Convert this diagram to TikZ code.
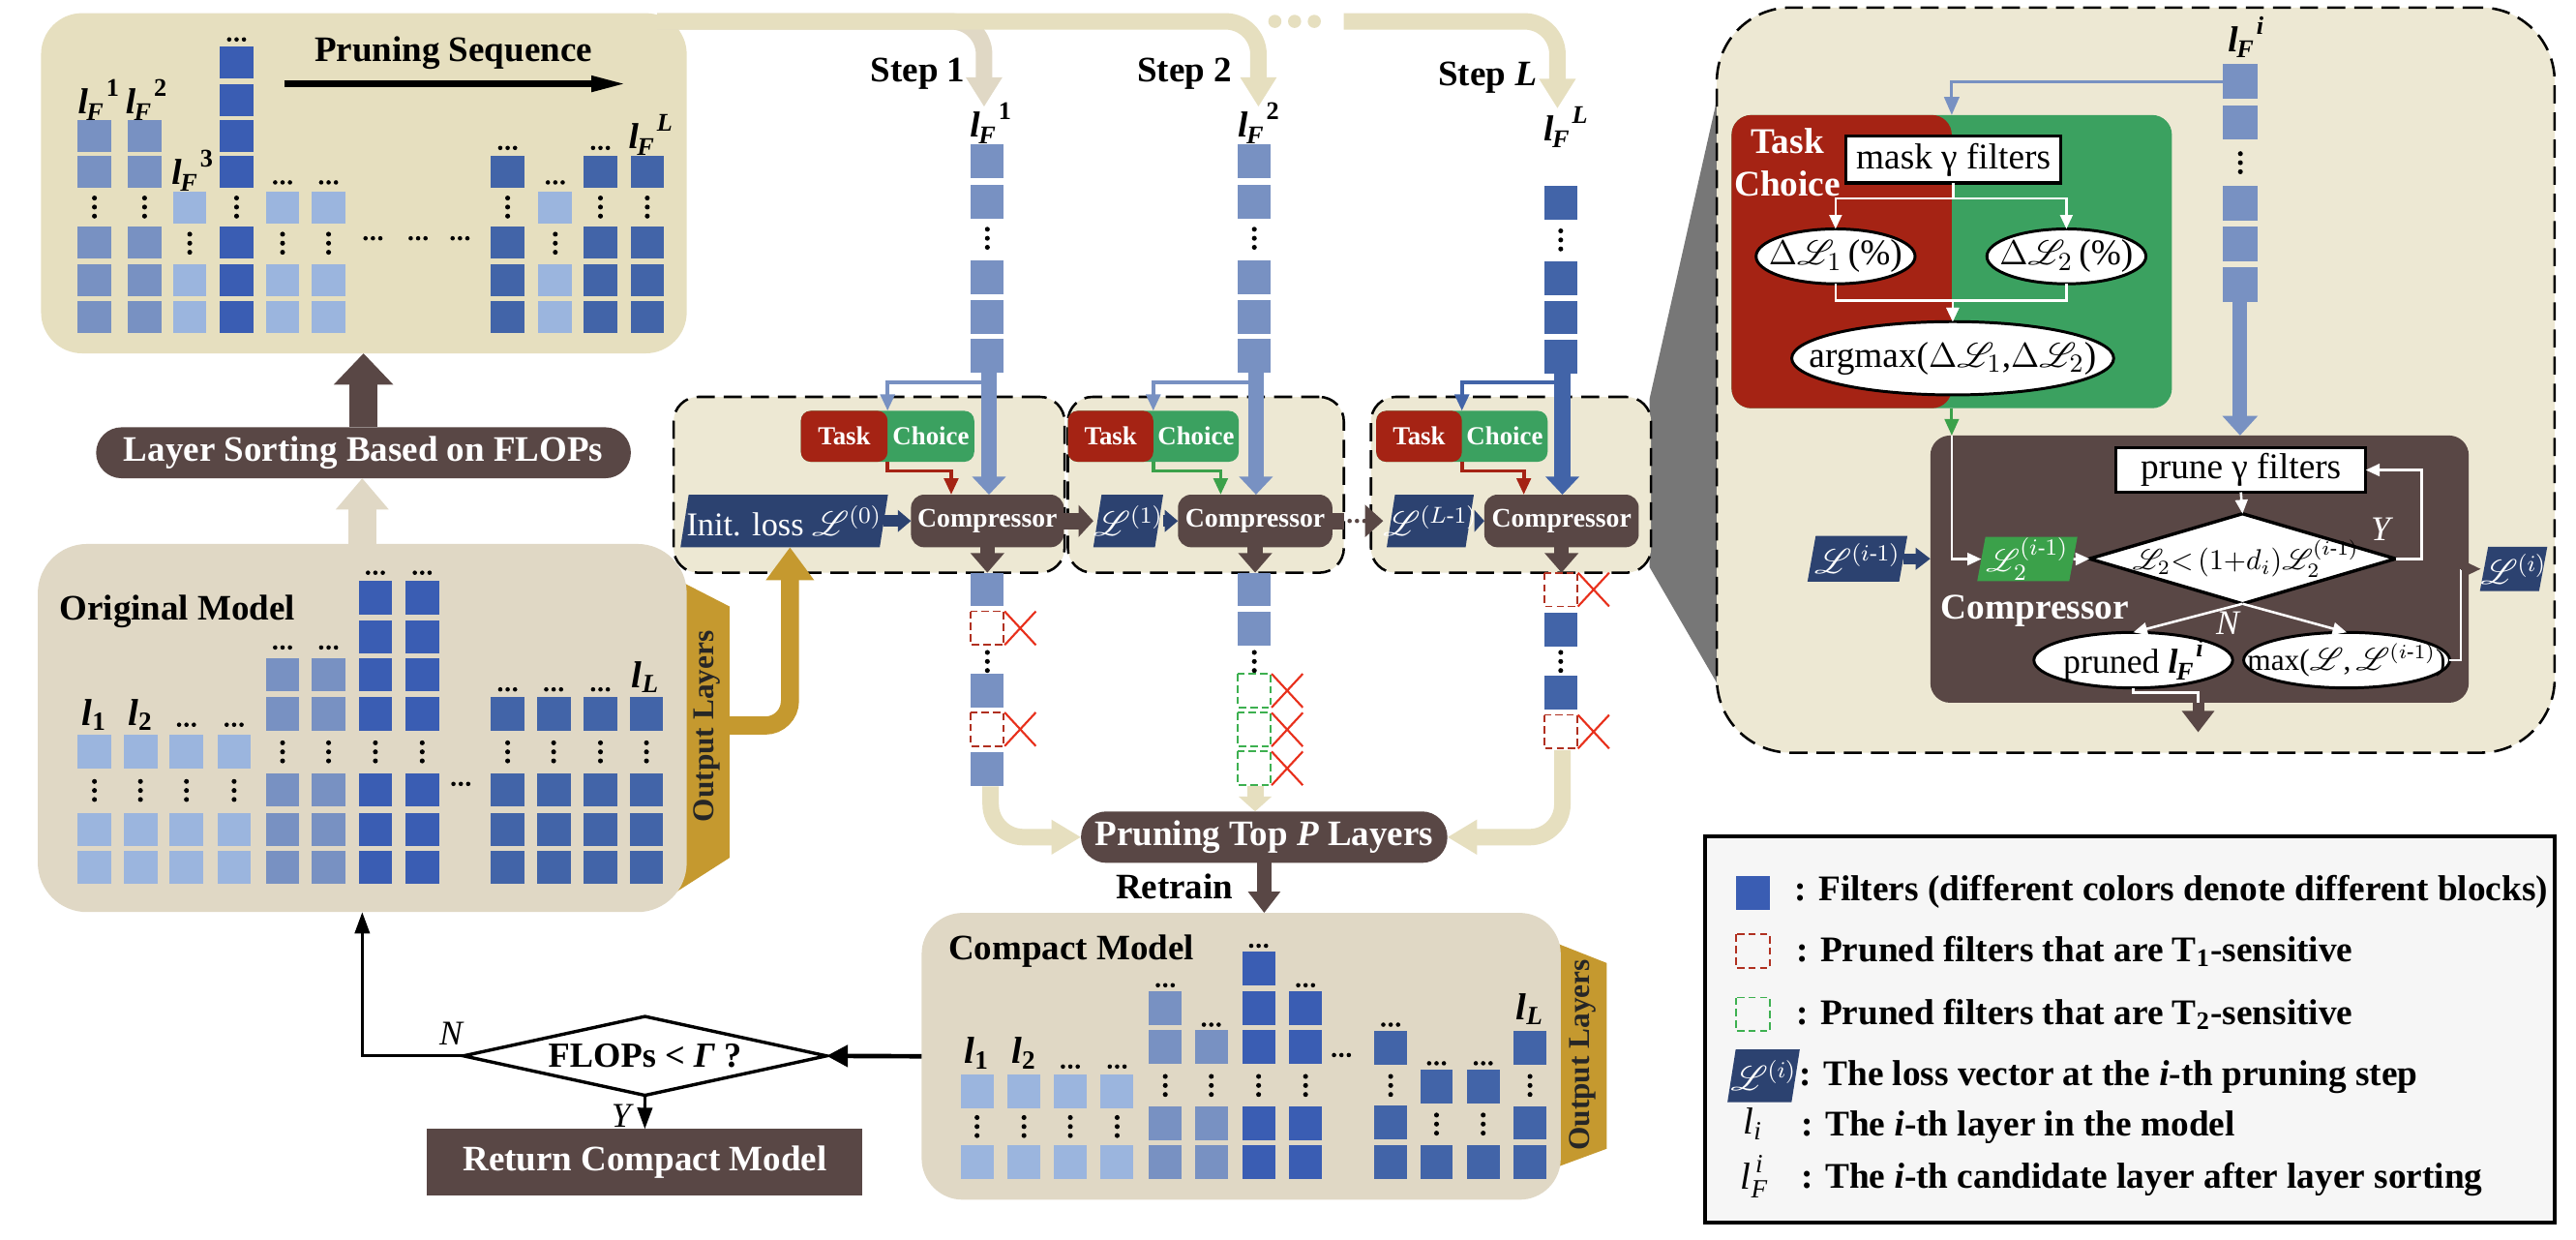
\documentclass[tikz,border=0pt]{standalone}
\usepackage{amsmath}
\usepackage{mathrsfs}
\usepackage{fontspec}
\setmainfont{Liberation Serif}
\usetikzlibrary{arrows.meta,shapes.geometric,calc}
\definecolor{bgA}{HTML}{E6DFBF}
\definecolor{bgB}{HTML}{E0D8C5}
\definecolor{bgC}{HTML}{EDE8D3}
\definecolor{brn}{HTML}{594745}
\definecolor{navy}{HTML}{2C4270}
\definecolor{tred}{HTML}{A52314}
\definecolor{tgrn}{HTML}{3BA160}
\definecolor{lgrn}{HTML}{3BA14A}
\definecolor{fL}{HTML}{9BB5DE}
\definecolor{fM}{HTML}{7891C2}
\definecolor{fD}{HTML}{3A5DB3}
\definecolor{fE}{HTML}{4264A8}
\definecolor{gold}{HTML}{C5992F}
\definecolor{xred}{HTML}{E8301C}
\definecolor{dred}{HTML}{B03020}
\definecolor{dgrn}{HTML}{3DB050}
\definecolor{lgdc}{HTML}{F6F6F6}
\definecolor{gry}{HTML}{777777}

\newcommand\sqw{20}
\newcommand\sqh{20.5}
\newcommand\fsq[3]{\fill[#3] ({#1-\sqw/2},{#2}) rectangle ++(\sqw,\sqh);}
\newcommand\fdsq[3]{\draw[#3,line width=0.22mm,dash pattern=on 0.9mm off 0.5mm] ({#1-\sqw/2},{#2}) rectangle ++(\sqw,\sqh);}
\newcommand\fxm[2]{\draw[xred,line width=0.25mm] ({#1},{#2}) -- ++(19,\sqh) ({#1+19},{#2}) -- ++(-19,\sqh);}
\newcommand\fvd[2]{\foreach \k in {-5.5,0,5.5}{\fill ({#1},{#2+\k}) circle (0.3mm);}}
\newcommand\fhd[2]{\foreach \k in {-4.5,0,4.5}{\fill ({#1+\k},{#2}) circle (0.27mm);}}
\newcommand\pgram[7]{%
  \fill[#6] ({#2-#4/2+2.5},{#3-#5/2}) -- ({#2+#4/2+2.5},{#3-#5/2}) -- ({#2+#4/2-2.5},{#3+#5/2}) -- ({#2-#4/2-2.5},{#3+#5/2}) -- cycle;
  \node[sz={#4}{#5},text=white] (#1) at (#2,#3) {#7};}
\newcommand\lfl[1]{\textbf{\textit{l}}\kern-0.04em\raisebox{-0.4ex}{\fontsize{8.8}{9}\selectfont\textbf{\textit{F}}}\kern0.08em\raisebox{1.05ex}{\fontsize{8.8}{9}\selectfont\textbf{#1}}}
\newcommand\lsub[1]{\ensuremath{\textbf{\textit{l}}_{\textbf{#1}}}}
\newcommand\sL{\mathscr{L}}

\begin{document}
\begin{tikzpicture}[x=0.2mm,y=-0.2mm,
  sz/.style 2 args={minimum width=#1*0.2mm,minimum height=#2*0.2mm,inner sep=0pt,outer sep=0pt},
  bigt/.style={font=\fontsize{12.4}{14}\selectfont\bfseries},
  lgt/.style={font=\fontsize{12.5}{15}\selectfont\bfseries,anchor=west,inner sep=0pt},
  pillb/.style={fill=brn,text=white,bigt},
  cmpr/.style={fill=brn,text=white,rounded corners=1.6mm,font=\fontsize{9.3}{11}\selectfont\bfseries},
  tcs/.style={fill=tgrn,rounded corners=1.2mm,path picture={\fill[tred] (path picture bounding box.south west) rectangle (path picture bounding box.north);}},
  tct/.style={text=white,font=\fontsize{9}{11}\selectfont\bfseries,inner sep=0pt},
  stepbox/.style={fill=bgC,draw=black,line width=0.3mm,dash pattern=on 2.2mm off 1.1mm,rounded corners=3mm},
  band/.style={line width=2mm,draw=bgA,rounded corners=4mm,-{Triangle[width=4.2mm,length=3.6mm]}},
  lab/.style={font=\fontsize{12.5}{14}\selectfont,inner sep=0pt},
  labo/.style={font=\fontsize{13}{15}\selectfont,inner sep=0pt},
  wl/.style={draw=white,line width=0.3mm},
  wtip/.style={-{Triangle[width=1.5mm,length=1.7mm]}},
  ell/.style={ellipse,draw=black,fill=white,line width=0.35mm},
  rt/.style={font=\fontsize{12.5}{14}\selectfont,inner sep=0pt},
  otab/.style={rotate=90,font=\fontsize{10.5}{12}\selectfont\bfseries,text=black!85,inner sep=0pt},
]
\useasboundingbox (0,0) rectangle (1568,754);
\fill[white] (0,0) rectangle (1568,754);

% grey zoom connector
\fill[gry] (1004,243) -- (1047,52) -- (1047,419) -- (1004,345) -- cycle;

% ===== pruning sequence box =====
\node[sz={393}{207},fill=bgA,rounded corners=5mm] (seqbox) at (221.5,111.5) {};
\coordinate (bandS) at (400,13);
\coordinate (s1tip) at (599,65);
\coordinate (s2tip) at (766,65);
\coordinate (bandL) at (818,13);
\coordinate (sLtip) at (948,66);
\draw[band,draw=bgB] (bandS) -| (s1tip);
\draw[band] (bandS) -| (s2tip);
\foreach \x in {776,788,800}{\fill[bgA] (\x,13) circle (0.8mm);}
\draw[band] (bandL) -| (sLtip);

\node[bigt] (seqt) at (276,32) {Pruning Sequence};
\coordinate (seqa1) at (173,51);
\coordinate (seqa2) at (381,51);
\draw[line width=0.75mm,-{Triangle[width=1.8mm,length=4.2mm]}] (seqa1) -- (seqa2);

\renewcommand\sqw{20.5}\renewcommand\sqh{19.5}
\foreach \x in {57.5,88}{\fsq{\x}{73}{fM}\fsq{\x}{95}{fM}\fvd{\x}{126}\fsq{\x}{138}{fM}\fsq{\x}{161}{fM}\fsq{\x}{183}{fM}}
\foreach \x in {115.5,172,200,338}{\fsq{\x}{116.5}{fL}\fvd{\x}{148}\fsq{\x}{161}{fL}\fsq{\x}{183}{fL}}
\foreach \x in {172,200,338}{\fhd{\x}{111}}
\fhd{144}{24}
\foreach \y in {28.5,51,73,95,138,161,183}{\fsq{144}{\y}{fD}}
\fvd{144}{126}
\fhd{227}{145}\fhd{254.5}{145}\fhd{280}{145}
\foreach \x in {309,365.5,394}{\fsq{\x}{95}{fE}\fvd{\x}{126}\fsq{\x}{138}{fE}\fsq{\x}{161}{fE}\fsq{\x}{183}{fE}}
\fhd{309}{90}\fhd{365.5}{90}
\node[lab] (lf1) at (60,61) {\lfl{1}};
\node[lab] (lf2) at (89,61) {\lfl{2}};
\node[lab] (lf3) at (117,104) {\lfl{3}};
\node[lab] (lfL) at (396,82) {\lfl{\textit{L}}};

% ===== layer sorting =====
\node[pillb,sz={325.5}{31},rounded corners=3.1mm] (sort) at (221.25,275.5) {Layer Sorting Based on FLOPs};
\draw[brn,line width=3.4mm,-{Triangle[width=7mm,length=3.8mm]}] (sort.north) -- (sort.north |- seqbox.south);

% ===== original model =====
\fill[gold] (405,349) -- (444,369) -- (444,522) -- (405,547) -- cycle;
\node[sz={395}{224},fill=bgB,rounded corners=6mm] (orig) at (220.5,443) {};
\node[otab] (otab1) at (430,442) {Output Layers};
\node[bigt] (origt) at (108,372) {Original Model};
\draw[bgB,line width=3.4mm,-{Triangle[width=6.2mm,length=3.8mm]}] (orig.north) -- (orig.north |- sort.south);

\renewcommand\sqw{20.5}\renewcommand\sqh{20.3}
\foreach \x in {57.5,85.5,113.5,142.5}{\fsq{\x}{447.2}{fL}\fvd{\x}{481}\fsq{\x}{494.5}{fL}\fsq{\x}{517.7}{fL}}
\foreach \x in {172,200}{\fhd{\x}{394}\fsq{\x}{400.5}{fM}\fsq{\x}{424.2}{fM}\fvd{\x}{457.5}\fsq{\x}{470.6}{fM}\fsq{\x}{494.5}{fM}\fsq{\x}{517.7}{fM}}
\foreach \x in {228.5,257}{\fhd{\x}{348.5}\fsq{\x}{353.6}{fD}\fsq{\x}{377.3}{fD}\fsq{\x}{400.5}{fD}\fsq{\x}{424.2}{fD}\fvd{\x}{457.5}\fsq{\x}{470.6}{fD}\fsq{\x}{494.5}{fD}\fsq{\x}{517.7}{fD}}
\fhd{280.5}{477}
\foreach \x in {309,337,365.5}{\fhd{\x}{419.5}}
\foreach \x in {309,337,365.5,393.5}{\fsq{\x}{424.2}{fE}\fvd{\x}{457.5}\fsq{\x}{470.6}{fE}\fsq{\x}{494.5}{fE}\fsq{\x}{517.7}{fE}}
\node[labo] (ol1) at (57.5,435) {\lsub{1}};
\node[labo] (ol2) at (85.5,435) {\lsub{2}};
\fhd{113.5}{441}\fhd{142.5}{441}
\node[labo] (olL) at (393,412) {\lsub{\textit{L}}};

% ===== step boxes =====
\node[stepbox,sz={238}{107}] (sb1) at (529,295) {};
\node[stepbox,sz={168}{107}] (sb2) at (734,295) {};
\node[stepbox,sz={170.5}{107}] (sb3) at (919.75,295) {};

\node[bigt] (st1) at (558.7,45) {Step 1};
\node[bigt] (st2) at (721,45) {Step 2};
\node[bigt] (stL) at (905.5,47) {Step \textit{L}};
\node[lab] (lfs1) at (603,75) {\lfl{1}};
\node[lab] (lfs2) at (766,75) {\lfl{2}};
\node[lab] (lfsL) at (953,77.5) {\lfl{\textit{L}}};

\renewcommand\sqw{20}\renewcommand\sqh{20.5}
\foreach \x in {601,763.5}{\fsq{\x}{88}{fM}\fsq{\x}{112.5}{fM}\fvd{\x}{145}\fsq{\x}{158.5}{fM}\fsq{\x}{182.5}{fM}\fsq{\x}{206.3}{fM}}
\fsq{950}{113}{fE}\fvd{950}{146}\fsq{950}{159}{fE}\fsq{950}{183}{fE}\fsq{950}{206.7}{fE}

% task choice pills
\node[tcs,sz={105.5}{31}] (tc1) at (540.25,265.5) {};
\node[tcs,sz={104}{31}] (tc2) at (702,265.5) {};
\node[tcs,sz={104.3}{31}] (tc3) at (889.85,265.5) {};
\foreach \t in {tc1,tc2,tc3}{
  \node[tct] (\t a) at ($(\t.west)!0.5!(\t.center)$) {Task};
  \node[tct] (\t b) at ($(\t.center)!0.5!(\t.east)$) {Choice};}

% compressors and losses
\node[cmpr,sz={93}{32}] (comp1) at (601,317) {Compressor};
\node[cmpr,sz={94}{32}] (comp2) at (764,317) {Compressor};
\node[cmpr,sz={94}{32}] (comp3) at (950.5,317) {Compressor};
\pgram{init}{477.35}{317}{121.3}{32}{navy}{\fontsize{11.5}{13}\selectfont Init. loss $\sL^{(0)}$}
\pgram{l1}{686.75}{317}{37.5}{32}{navy}{\fontsize{12}{14}\selectfont$\sL^{(1)}$}
\pgram{lL1}{870.6}{317}{48}{32}{navy}{\fontsize{12}{14}\selectfont$\sL^{(L\text{-}1)}$}

\draw[navy,line width=1.4mm,-{Triangle[width=2.6mm,length=1.6mm]}] (init.east) -- (comp1.west);
\draw[brn,line width=2mm,-{Triangle[width=3.8mm,length=1.8mm]}] (comp1.east) -- (l1.west);
\draw[navy,line width=1.4mm,-{Triangle[width=2.6mm,length=1.6mm]}] (l1.east) -- (comp2.west);
\draw[brn,line width=2mm] (comp2.east) -- ++(7,0);
\begin{scope}[brn]\fhd{826}{317}\end{scope}
\coordinate (dd) at (832,317);
\draw[brn,line width=2mm,-{Triangle[width=3.8mm,length=2.2mm]}] (dd) -- (lL1.west);
\draw[navy,line width=1.4mm,-{Triangle[width=2.6mm,length=1.2mm]}] (lL1.east) -- (comp3.west);

% column shafts and branches
\coordinate (c1b) at (602,226);
\coordinate (c2b) at (764.5,226);
\coordinate (cLb) at (951,226);
\coordinate (c1j) at (602,232.6);
\coordinate (c2j) at (764.5,232.6);
\coordinate (cLj) at (951,232.6);
\draw[fM,line width=1.9mm,-{Triangle[width=4mm,length=2.2mm]}] (c1b) -- (c1b |- comp1.north);
\draw[fM,line width=1.9mm,-{Triangle[width=4mm,length=2.2mm]}] (c2b) -- (c2b |- comp2.north);
\draw[fE,line width=1.9mm,-{Triangle[width=4mm,length=2.2mm]}] (cLb) -- (cLb |- comp3.north);
\draw[fM,line width=0.45mm,-{Triangle[width=1.7mm,length=2mm]}] (c1j) -| (tc1.north);
\draw[fM,line width=0.45mm,-{Triangle[width=1.7mm,length=2mm]}] (c2j) -| (tc2.north);
\draw[fE,line width=0.45mm,-{Triangle[width=1.7mm,length=2mm]}] (cLj) -| (tc3.north);
\draw[tred,line width=0.45mm,-{Triangle[width=1.7mm,length=2mm]}] (tc1.south) -- ++(0,5.6) -| ($(comp1.north west)+(24.5,0)$);
\draw[lgrn,line width=0.45mm,-{Triangle[width=1.7mm,length=2mm]}] (tc2.south) -- ++(0,5.6) -| ($(comp2.north west)+(26,0)$);
\draw[tred,line width=0.45mm,-{Triangle[width=1.7mm,length=2mm]}] (tc3.south) -- ++(0,5.6) -| ($(comp3.north west)+(24,0)$);
\foreach \c/\b in {comp1/sb1,comp2/sb2,comp3/sb3}{
  \draw[brn,line width=1.8mm,-{Triangle[width=4mm,length=2.4mm]}] (\c.south) -- (\c.south |- \b.south);}

% gold arrow from output layers
\coordinate (gstart) at (444,441.5);
\draw[gold,line width=2.2mm,rounded corners=3mm,-{Triangle[width=5.6mm,length=4mm]}] (gstart) -| ($(init.south)+(3.5,0)$);

% columns below step boxes
\fsq{601}{348.5}{fM}\fdsq{601}{372}{dred}\fxm{611.5}{372}\fvd{601}{402.5}\fsq{601}{410}{fM}\fdsq{601}{433.5}{dred}\fxm{611.5}{433.5}\fsq{601}{457.5}{fM}
\fsq{763.5}{348.5}{fM}\fsq{763.5}{372.5}{fM}\fvd{763.5}{402.5}\fdsq{763.5}{410}{dgrn}\fxm{774}{410}\fdsq{763.5}{433.7}{dgrn}\fxm{774}{433.7}\fdsq{763.5}{457.3}{dgrn}\fxm{774}{457.3}
\fdsq{950}{348.5}{dred}\fxm{960.5}{348.5}\fsq{950}{372.7}{fE}\fvd{950}{402.5}\fsq{950}{411}{fE}\fdsq{950}{435}{dred}\fxm{960.5}{435}

% pruning top P layers
\node[pillb,sz={223}{31.3},rounded corners=3.1mm] (prun) at (769.5,509.4) {Pruning Top \textit{P} Layers};
\coordinate (b1) at (603,478.5);
\coordinate (b2) at (764,478.5);
\coordinate (b3) at (951,456.5);
\draw[line width=2mm,draw=bgA,rounded corners=4mm,-{Triangle[width=4mm,length=3.6mm]}] (b1) |- (prun.west);
\draw[line width=2mm,draw=bgA,-{Triangle[width=3.9mm,length=1.8mm]}] (b2) -- (b2 |- prun.north);
\draw[line width=2mm,draw=bgA,rounded corners=4mm,-{Triangle[width=4mm,length=3.6mm]}] (b3) |- (prun.east);

% ===== compact model =====
\fill[gold] (940,571) -- (978,586) -- (978,699) -- (940,713) -- cycle;
\node[sz={389}{174.5},fill=bgB,rounded corners=5mm] (compact) at (755.5,642.75) {};
\node[otab] (otab2) at (963.3,642) {Output Layers};
\draw[brn,line width=1.8mm,-{Triangle[width=3.8mm,length=2.6mm]}] (prun.south) -- (prun.south |- compact.north);
\node[bigt] (retr) at (714.9,539.5) {Retrain};
\node[bigt] (compt) at (652,579) {Compact Model};

\renewcommand\sqw{20}\renewcommand\sqh{20.5}
\foreach \x in {594.7,623.3,651.5,680}{\fsq{\x}{654}{fL}\fvd{\x}{685.5}\fsq{\x}{697}{fL}}
\node[labo] (cl1) at (594.7,641) {\lsub{1}};
\node[labo] (cl2) at (623.3,641) {\lsub{2}};
\fhd{651.5}{649}\fhd{680}{649}
\fhd{709.3}{599.5}\fsq{709.3}{603}{fM}\fsq{709.3}{627}{fM}\fvd{709.3}{660.5}\fsq{709.3}{673.5}{fM}\fsq{709.3}{697}{fM}
\fhd{737.3}{623.5}\fsq{737.3}{627}{fM}\fvd{737.3}{660.5}\fsq{737.3}{673.5}{fM}\fsq{737.3}{697}{fM}
\fhd{766.1}{575.5}\fsq{766.1}{579}{fD}\fsq{766.1}{603}{fD}\fsq{766.1}{627}{fD}\fvd{766.1}{660.5}\fsq{766.1}{673.5}{fD}\fsq{766.1}{697}{fD}
\fhd{794.7}{599.5}\fsq{794.7}{603}{fD}\fsq{794.7}{627}{fD}\fvd{794.7}{660.5}\fsq{794.7}{673.5}{fD}\fsq{794.7}{697}{fD}
\fhd{816.5}{642}
\fhd{846.5}{623.5}\fsq{846.5}{627.5}{fE}\fvd{846.5}{660.5}\fsq{846.5}{672.5}{fE}\fsq{846.5}{697}{fE}
\foreach \x in {874.4,902.8}{\fhd{\x}{647}\fsq{\x}{650.8}{fE}\fvd{\x}{684}\fsq{\x}{697}{fE}}
\node[labo] (clL) at (931.3,614) {\lsub{\textit{L}}};
\fsq{931.3}{627.5}{fE}\fvd{931.3}{660.5}\fsq{931.3}{673}{fE}\fsq{931.3}{697}{fE}

% ===== FLOPs check =====
\node[diamond,draw=black,line width=0.4mm,sz={221}{48}] (flops) at (392.6,642.5) {};
\node[font=\fontsize{12.2}{14}\selectfont\bfseries,inner sep=0pt] (flopt) at (392.6,642.5) {FLOPs < \textit{Γ} ?};
\node[sz={265}{40.4},fill=brn,text=white,bigt] (ret) at (392.5,707.2) {Return Compact Model};
\draw[line width=0.55mm,-{Triangle[width=2.6mm,length=2.6mm]}] (compact.west) -- (flops.east);
\draw[line width=0.35mm,-{Triangle[width=1.8mm,length=2.6mm]}] (flops.west) -| (orig.south);
\draw[line width=0.35mm,-{Triangle[width=1.8mm,length=2.6mm]}] (flops.south) -- (ret.north);
\node[font=\fontsize{12}{14}\selectfont\itshape,inner sep=0pt] (nlab) at (274.5,629) {N};
\node[font=\fontsize{12}{14}\selectfont\itshape,inner sep=0pt] (ylab) at (378,679) {Y};

% ===== right panel =====
\node[sz={510}{453.4},fill=bgC,draw=black,line width=0.3mm,dash pattern=on 2.2mm off 1.1mm,rounded corners=9mm] (panel) at (1300,231.3) {};
\node[lab] (lfpi) at (1367,22.6) {\lfl{\textit{i}}};
\renewcommand\sqw{21.5}\renewcommand\sqh{21}
\fsq{1363.7}{39}{fM}\fsq{1363.7}{64}{fM}\fvd{1363.7}{99}\fsq{1363.7}{113}{fM}\fsq{1363.7}{138}{fM}\fsq{1363.7}{162.6}{fM}

\node[tcs,rounded corners=2.4mm,sz={268}{178.4}] (tcp) at (1188,159.2) {};
\node[text=white,font=\fontsize{12.5}{14}\selectfont\bfseries,inner sep=0pt] (tcpa) at (1088,86) {Task};
\node[text=white,font=\fontsize{12.5}{14}\selectfont\bfseries,inner sep=0pt] (tcpb) at (1088,112) {Choice};
\node[sz={130.7}{28.6},draw=black,fill=white,line width=0.4mm,rt] (mask) at (1189,97.1) {mask γ filters};
\node[ell,sz={96.8}{33.4}] (e1) at (1117.3,156) {};
\node[rt] (e1t) at (e1) {$\Delta\sL_1$\,(\%)};
\node[ell,sz={96.8}{33.4}] (e2) at (1257.8,156) {};
\node[rt] (e2t) at (e2) {$\Delta\sL_2$\,(\%)};
\node[ell,sz={196}{44.6}] (amax) at (1188.6,218) {};
\node[rt] (amaxt) at (amax) {argmax($\Delta\sL_1$,$\Delta\sL_2$)};

\node[sz={327.7}{162.6},fill=brn,rounded corners=2.4mm] (cmp) at (1338.85,346.3) {};
\node[sz={152}{27.1},draw=black,fill=white,line width=0.4mm,rt] (prune) at (1364,286) {prune γ filters};
\node[diamond,draw=black,fill=white,line width=0.4mm,sz={186.3}{54.8}] (pdia) at (1365,340) {};
\node[font=\fontsize{10.3}{12}\selectfont,inner sep=0pt] (pdiat) at (1367,340) {$\sL_2{<}\,(1{+}d_i)\sL_2^{(i\text{-}1)}$};
\node[ell,sz={121}{33.8}] (pre) at (1298.5,401.7) {};
\node[font=\fontsize{12}{14}\selectfont,inner sep=0pt] (pret) at (pre) {pruned \lfl{\textit{i}}};
\node[ell,sz={125.4}{33.8}] (mxe) at (1428.4,401.7) {};
\node[font=\fontsize{10.5}{12}\selectfont,inner sep=0pt] (mxet) at (mxe) {max($\sL$,\,$\sL^{(i\text{-}1)}$)};
\node[text=white,font=\fontsize{12.5}{14}\selectfont\bfseries,inner sep=0pt] (cmpt) at (1238.6,372) {Compressor};
\pgram{l2p}{1234}{340.2}{56}{27}{lgrn}{\fontsize{11}{13}\selectfont$\sL_2^{(i\text{-}1)}$}
\pgram{lip}{1530}{346.2}{36}{27}{navy}{\fontsize{12}{14}\selectfont$\sL^{(i)}$}
\pgram{lim}{1130.6}{340}{55.8}{27.8}{navy}{\fontsize{12}{14}\selectfont$\sL^{(i\text{-}1)}$}

% panel connectors
\coordinate (pbr) at (1353,49.7);
\coordinate (pcb) at (1363.5,183.7);
\draw[fM,line width=1.75mm,-{Triangle[width=4.2mm,length=2.4mm]}] (pcb) -- (pcb |- cmp.north);
\draw[fM,line width=0.35mm,-{Triangle[width=1.8mm,length=2.2mm]}] (pbr) -| (tcp.north);
\draw[wl,wtip] (mask.south) -- ++(0,9.3) -| (e1.north);
\draw[wl,wtip] (mask.south) -- ++(0,9.3) -| (e2.north);
\draw[wl,wtip] (e1.south) -- ++(0,10.2) -| (amax.north);
\draw[wl,wtip] (e2.south) -- ++(0,10.2) -| (amax.north);
\draw[lgrn,line width=0.35mm,-{Triangle[width=1.7mm,length=2mm]}] (tcp.south) -- (tcp.south |- cmp.north);
\draw[wl,wtip] (tcp.south |- cmp.north) |- (l2p.west);
\draw[navy,line width=1.3mm,-{Triangle[width=2.6mm,length=1.8mm]}] (lim.east) -- (lim.east -| cmp.west);
\draw[wl,wtip] (l2p.east) -- (pdia.west);
\draw[wl,wtip] (prune.south) -- (pdia.north);
\draw[wl,wtip] (pdia.east) -- ++(15.8,0) |- (prune.east);
\draw[wl,wtip] (pdia.south) -- (pre.north);
\draw[wl,wtip] (pdia.south) -- (mxe.north);
\node[text=white,font=\fontsize{12}{14}\selectfont\itshape,inner sep=0pt] (pylab) at (1449,322) {Y};
\node[text=white,font=\fontsize{12}{14}\selectfont\itshape,inner sep=0pt] (pnlab) at (1356,379) {N};
\coordinate (mj) at (1498,346.2);
\draw[wl] (mxe.east) -| (mj);
\draw[brn,line width=0.35mm,-{Triangle[width=1.8mm,length=2mm]}] (mj) -- (lip.west);
\coordinate (pj) at (1338,427.6);
\draw[wl] (pre.south) -- ++(0,3) -| (pj);
\draw[brn,line width=1.4mm,-{Triangle[width=3.8mm,length=2.6mm]}] (pj) -- ++(0,18);

% ===== legend =====
\node[sz={517}{235},fill=lgdc,draw=black,line width=0.45mm] (lgd) at (1296.5,626.5) {};
\renewcommand\sqw{20.5}\renewcommand\sqh{20.5}
\fsq{1067}{533}{fD}
\fdsq{1067}{568.5}{dred}
\fdsq{1067}{607}{dgrn}
\pgram{lgL}{1073.5}{654.6}{39}{32}{navy}{\fontsize{12}{14}\selectfont$\sL^{(i)}$}
\node[font=\fontsize{13}{15}\selectfont,inner sep=0pt] (lgli) at (1067,684) {$\textit{l}_{\textit{i}}$};
\node[font=\fontsize{13}{15}\selectfont,inner sep=0pt] (lglf) at (1068,716) {$\textit{l}_{\textit{F}}^{\,\textit{i}}$};
\node[lgt] (lg1) at (1092,542.7) {: Filters (different colors denote different blocks)};
\node[lgt] (lg2) at (1093,579) {: Pruned filters that are T\textsubscript{1}-sensitive};
\node[lgt] (lg3) at (1093,617.4) {: Pruned filters that are T\textsubscript{2}-sensitive};
\node[lgt] (lg4) at (1095,655.6) {: The loss vector at the \textit{i}-th pruning step};
\node[lgt] (lg5) at (1096,685.8) {: The \textit{i}-th layer in the model};
\node[lgt] (lg6) at (1096,718) {: The \textit{i}-th candidate layer after layer sorting};
\end{tikzpicture}
\end{document}
